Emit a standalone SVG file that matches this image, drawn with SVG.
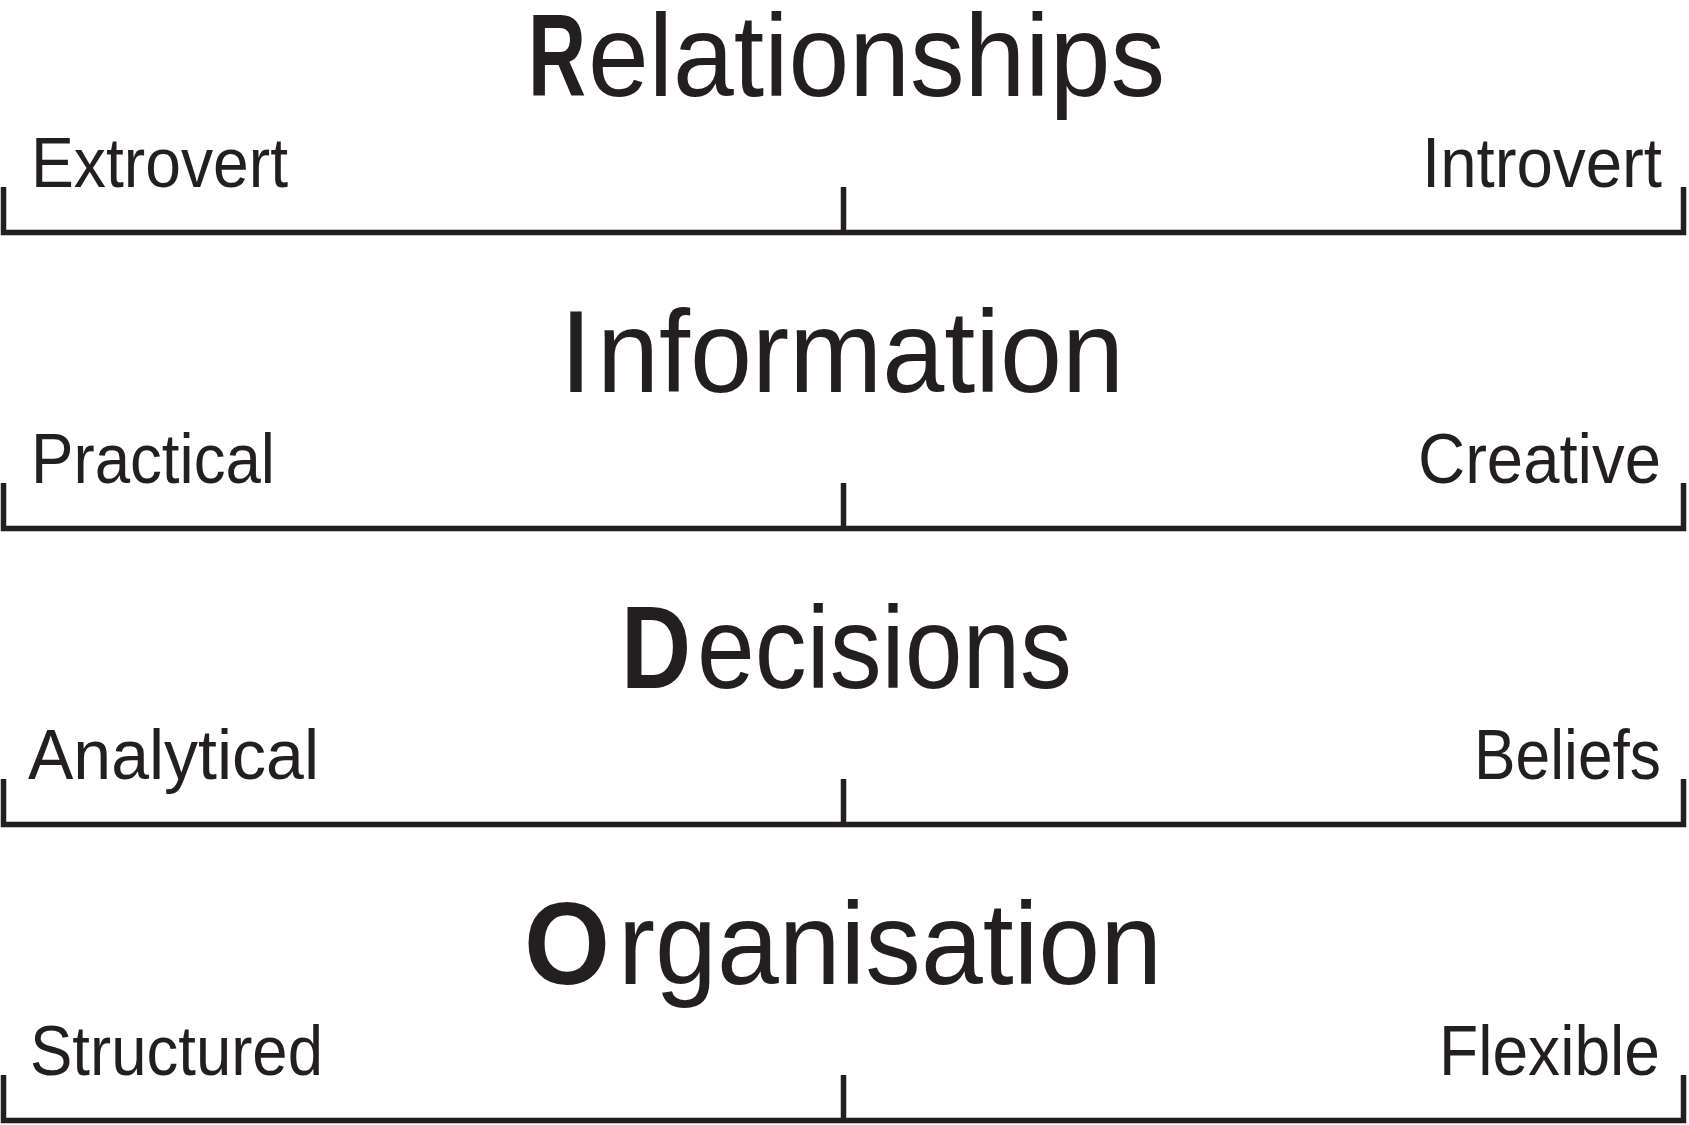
<svg xmlns="http://www.w3.org/2000/svg" width="1689" height="1125" viewBox="0 0 1689 1125">
  <style>
    .bg { fill: #ffffff; }
    .title { font-family: "Liberation Sans", Arial, sans-serif; font-size: 116px; fill: #231f20; font-weight: normal; }
    .initial { font-weight: bold; }
    .label { font-family: "Liberation Sans", Arial, sans-serif; font-size: 70px; fill: #231f20; }
    .scale { fill: none; stroke: #231f20; stroke-width: 5.5; stroke-linejoin: miter; stroke-linecap: butt; }
  </style>
  <rect class="bg" x="0" y="0" width="1689" height="1125"/>

  <g id="relationships">
    <text class="title initial" transform="translate(528,96) scale(0.6925,1)">R</text>
    <text class="title" transform="translate(588,96) scale(0.942,1)">elationships</text>
    <text class="label" x="31" y="187" textLength="257" lengthAdjust="spacingAndGlyphs">Extrovert</text>
    <text class="label" x="1422" y="187" textLength="240" lengthAdjust="spacingAndGlyphs">Introvert</text>
  </g>

  <g id="information">
    <text class="title initial" transform="translate(565,392) scale(0.682,1)">I</text>
    <text class="title" transform="translate(597,392) scale(0.9617,1)">nformation</text>
    <text class="label" x="31" y="483" textLength="244" lengthAdjust="spacingAndGlyphs">Practical</text>
    <text class="label" x="1418" y="483" textLength="243" lengthAdjust="spacingAndGlyphs">Creative</text>
  </g>

  <g id="decisions">
    <text class="title initial" transform="translate(621,688) scale(0.836,1)">D</text>
    <text class="title" transform="translate(697,688) scale(0.895,1)">ecisions</text>
    <text class="label" x="28" y="779" textLength="291" lengthAdjust="spacingAndGlyphs">Analytical</text>
    <text class="label" x="1474" y="779" textLength="187" lengthAdjust="spacingAndGlyphs">Beliefs</text>
  </g>

  <g id="organisation">
    <text class="title initial" transform="translate(524,984) scale(0.953,1)">O</text>
    <text class="title" transform="translate(618,984) scale(0.9588,1)">rganisation</text>
    <text class="label" x="30" y="1075" textLength="293" lengthAdjust="spacingAndGlyphs">Structured</text>
    <text class="label" x="1439" y="1075" textLength="221" lengthAdjust="spacingAndGlyphs">Flexible</text>
  </g>

  <g id="scales">
    <path class="scale" d="M3.5,187 V232.5 H1683.5 V187 M843.5,187 V232.5"/>
    <path class="scale" d="M3.5,483 V528.5 H1683.5 V483 M843.5,483 V528.5"/>
    <path class="scale" d="M3.5,779 V824.5 H1683.5 V779 M843.5,779 V824.5"/>
    <path class="scale" d="M3.5,1075 V1120.5 H1683.5 V1075 M843.5,1075 V1120.5"/>
  </g>
</svg>
